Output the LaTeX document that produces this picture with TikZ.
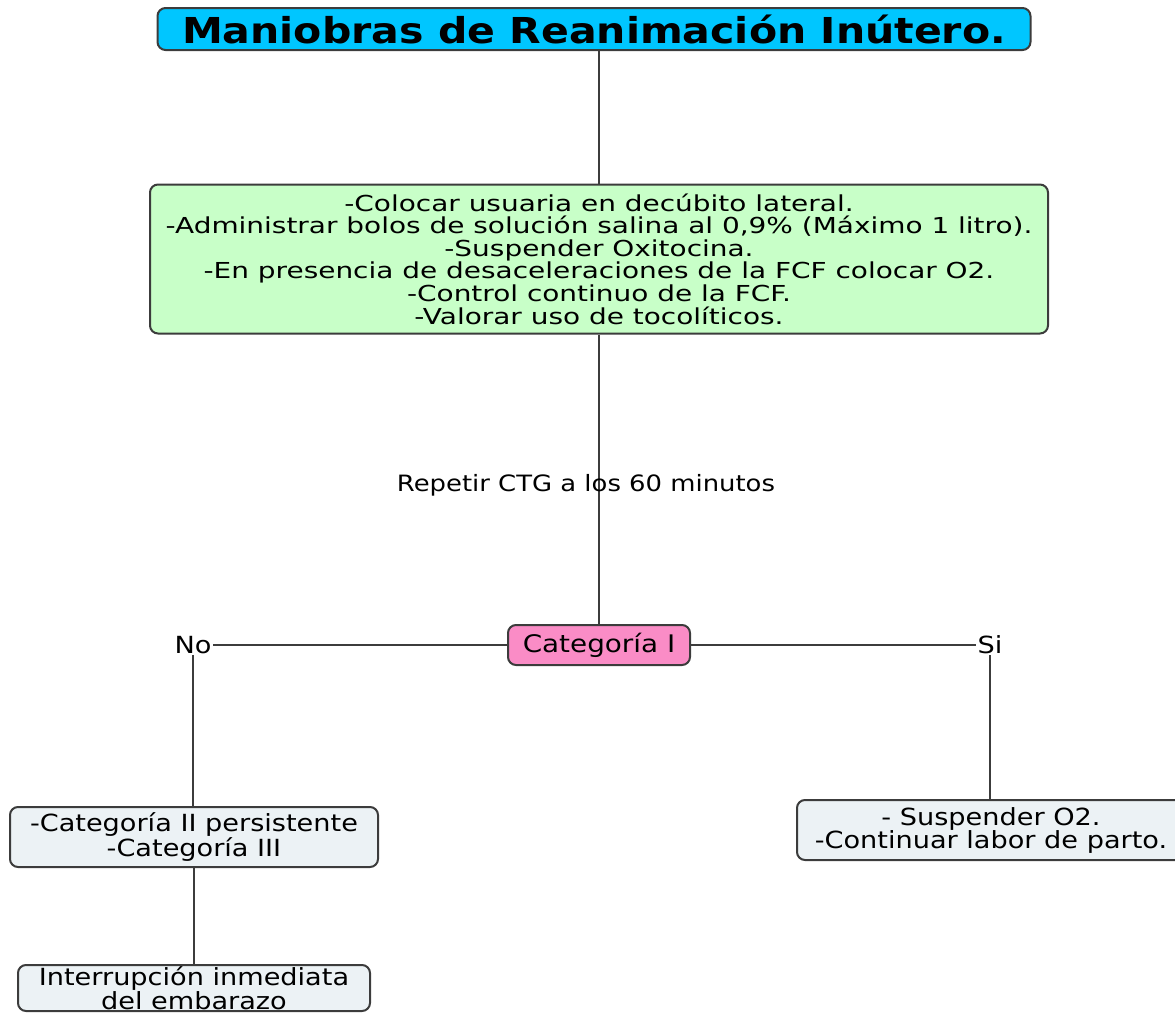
\documentclass[tikz,border=0pt]{standalone}
\usepackage{fontspec}
\setmainfont[FakeStretch=1.15]{DejaVu Sans}
\newfontfamily\widefont[FakeStretch=1.27]{DejaVu Sans}
\definecolor{titlecyan}{RGB}{0,198,255}
\definecolor{boxgreen}{RGB}{200,255,200}
\definecolor{boxpink}{RGB}{250,140,198}
\definecolor{boxgrey}{RGB}{236,242,245}
\definecolor{edgegrey}{RGB}{60,60,60}
\tikzset{
  box/.style={draw=edgegrey, line width=2pt, rounded corners=8pt, align=center,
    inner sep=0pt, font=\fontsize{23.6}{23}\selectfont},
  tag/.style={inner sep=1pt, font=\fontsize{23.6}{24}\selectfont},
  link/.style={draw=edgegrey, line width=1.6pt}
}
\begin{document}
\begin{tikzpicture}[x=1pt, y=-1pt]
      \useasboundingbox (0,0) rectangle (1175,1015);
      \clip (0,0) rectangle (1175,1015);
      \draw
        (594,29) node[box, fill=titlecyan, minimum width=873, minimum height=42,
          font=\bfseries\fontsize{35.7}{36}\selectfont] (title){Maniobras de Reanimación Inútero.}
        (599,259) node[box, fill=boxgreen, minimum width=898, minimum height=149,
          font=\widefont\fontsize{22}{22.6}\selectfont] (steps){-Colocar usuaria en decúbito lateral.\\
          -Administrar bolos de solución salina al 0,9\% (Máximo 1 litro).\\
          -Suspender Oxitocina.\\
          -En presencia de desaceleraciones de la FCF colocar O2.\\
          -Control continuo de la FCF.\\
          -Valorar uso de tocolíticos.}
        (599,645) node[box, fill=boxpink, minimum width=182, minimum height=40,
          font=\fontsize{24.2}{24}\selectfont] (cat){Categoría I}
        (193,645) node[tag] (no){No}
        (990,645) node[tag] (si){Si}
        (194,837) node[box, fill=boxgrey, minimum width=368, minimum height=60] (worse){-Categoría II persistente\\-Categoría III}
        (194,988) node[box, fill=boxgrey, minimum width=352, minimum height=46,
          font=\fontsize{23.6}{21.5}\selectfont] (stop){Interrupción inmediata\\del embarazo}
        (991,830) node[box, fill=boxgrey, minimum width=388, minimum height=60] (goon){- Suspender O2.\\-Continuar labor de parto.};
      \begin{scope}[link]
        \draw (steps.north) to (steps.north |- title.south);
        \draw (steps.south) to node[pos=0.522, xshift=-13, font=\fontsize{22.5}{23}\selectfont] (ctg){Repetir CTG a los 60 minutos} (cat.north);
        \draw (cat.west) to (no.east);
        \draw (cat.east) to (si.west);
        \draw (no.south) to (no.south |- worse.north);
        \draw (worse.south) to (stop.north);
        \draw (si.south) to (si.south |- goon.north);
      \end{scope}
    \end{tikzpicture}
\end{document}
